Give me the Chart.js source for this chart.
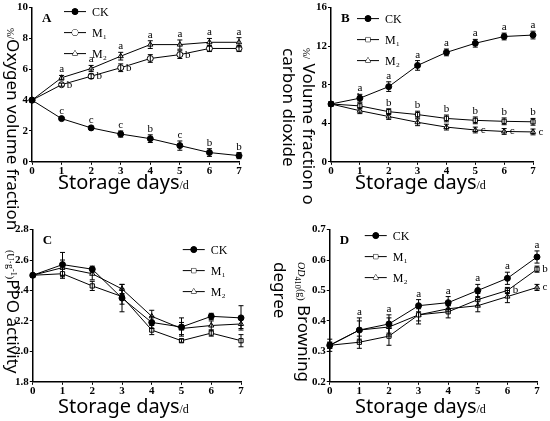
<!DOCTYPE html>
<html><head><meta charset="utf-8">
<script src="https://cdn.jsdelivr.net/npm/chart.js@4.4.1/dist/chart.umd.min.js"></script>
<style>
body{margin:0;background:#fff;width:550px;height:421px;position:relative;overflow:hidden;font-family:"Liberation Serif",serif}
canvas{position:absolute}
.yt{position:absolute;transform-origin:0 0;transform:rotate(90deg);white-space:nowrap;font-family:"Noto Sans",sans-serif;font-size:17px;line-height:17px;color:#000}
.yt small{font-family:"Liberation Serif",serif;font-size:10px}
.xt{position:absolute;font-family:"Noto Sans",sans-serif;font-size:20px;white-space:nowrap}
.xt small{font-family:"Liberation Serif",serif;font-size:12px}
</style></head><body>
<canvas id="cA" style="left:0;top:0" width="275" height="178"></canvas>
<canvas id="cB" style="left:275px;top:0" width="275" height="178"></canvas>
<canvas id="cC" style="left:0;top:222px" width="275" height="176"></canvas>
<canvas id="cD" style="left:275px;top:222px" width="275" height="176"></canvas>
<div class="yt" style="left:22px;top:28px"><small>%/</small>Oxygen volume fraction</div>
<div class="xt" style="left:58px;top:168px">Storage days<small>/d</small></div>
<div class="yt" style="left:318px;top:48px"><small>%/</small> Volume fraction o<br>carbon dioxide</div>
<div class="xt" style="left:355px;top:168px">Storage days<small>/d</small></div>
<div class="yt" style="left:22px;top:250px"><small>(U·g<sup>-1</sup>)</small>PPO activity</div>
<div class="xt" style="left:58px;top:392px">Storage days<small>/d</small></div>
<div class="yt" style="left:313px;top:262px"><small><i>OD</i><sub>410</sub>(g)</small> Browning<br>degree</div>
<div class="xt" style="left:355px;top:392px">Storage days<small>/d</small></div>
<script>
const days = [0, 1, 2, 3, 4, 5, 6, 7];
const seriesNames = ['CK', 'M\u2081', 'M\u2082'];

const oxyCK = [4, 2.8, 2.2, 1.8, 1.5, 1.05, 0.6, 0.4];
const oxyM1 = [4, 5.0, 5.55, 6.1, 6.7, 6.95, 7.35, 7.35];
const oxyM2 = [4, 5.45, 6.05, 6.85, 7.6, 7.6, 7.75, 7.75];
const oxyErr = [[0.1, 0.1, 0.1, 0.2, 0.25, 0.3, 0.25, 0.2], [0.1, 0.1, 0.15, 0.25, 0.25, 0.25, 0.2, 0.2], [0.1, 0.15, 0.2, 0.25, 0.25, 0.3, 0.25, 0.3]];
const oxyLetters = [['', 'c', 'c', 'c', 'b', 'c', 'b', 'b'], ['', 'b', 'b', 'b', '', 'b', '', ''], ['', 'a', 'a', 'a', 'a', 'a', 'a', 'a']];

const co2CK = [6, 6.6, 7.8, 10, 11.35, 12.3, 13, 13.15];
const co2M1 = [6, 5.8, 5.2, 4.9, 4.5, 4.3, 4.2, 4.15];
const co2M2 = [6, 5.3, 4.7, 4.1, 3.6, 3.3, 3.15, 3.1];
const co2Err = [[0.2, 0.4, 0.5, 0.5, 0.35, 0.4, 0.35, 0.4], [0.2, 0.3, 0.3, 0.35, 0.35, 0.35, 0.35, 0.35], [0.2, 0.3, 0.3, 0.35, 0.3, 0.3, 0.3, 0.3]];
const co2Letters = [['', 'a', 'a', 'a', 'a', 'a', 'a', 'a'], ['', 'b', 'b', 'b', 'b', 'b', 'b', 'b'], ['', '', '', '', '', 'c', 'c', 'c']];

const ppoCK = [2.5, 2.57, 2.54, 2.35, 2.19, 2.16, 2.23, 2.22];
const ppoM1 = [2.5, 2.51, 2.43, 2.36, 2.14, 2.07, 2.12, 2.07];
const ppoM2 = [2.5, 2.55, 2.51, 2.41, 2.23, 2.15, 2.17, 2.18];
const ppoErr = [[0.01, 0.08, 0.02, 0.09, 0.04, 0.06, 0.02, 0.08], [0.01, 0.03, 0.03, 0.05, 0.03, 0.01, 0.02, 0.04], [0.01, 0.05, 0.04, 0.03, 0.04, 0.04, 0.03, 0.03]];

const brCK = [0.32, 0.37, 0.39, 0.45, 0.46, 0.50, 0.54, 0.61];
const brM1 = [0.32, 0.33, 0.35, 0.42, 0.43, 0.47, 0.50, 0.57];
const brM2 = [0.32, 0.37, 0.38, 0.42, 0.44, 0.45, 0.48, 0.51];
const brErr = [[0.02, 0.04, 0.03, 0.02, 0.02, 0.02, 0.02, 0.02], [0.01, 0.02, 0.03, 0.02, 0.02, 0.02, 0.01, 0.01], [0.01, 0.03, 0.03, 0.03, 0.01, 0.02, 0.02, 0.01]];
const brLetters = [['', 'a', 'a', 'a', 'a', 'a', 'a', 'a'], ['', '', '', '', '', '', 'b', 'b'], ['', '', '', '', '', '', '', 'c']];

const serif = '"Liberation Serif", serif';

const extras = {
  id: 'extras',
  afterDatasetsDraw(chart, args, o) {
    const c = chart.ctx, x = chart.scales.x, y = chart.scales.y;
    c.save();
    c.strokeStyle = '#000'; c.fillStyle = '#000'; c.lineWidth = 1;
    // error bars
    chart.data.datasets.forEach((ds, i) => {
      ds.data.forEach((v, j) => {
        const e = o.err[i][j], px = x.getPixelForValue(j);
        const t = y.getPixelForValue(v + e), b = y.getPixelForValue(v - e);
        c.beginPath(); c.moveTo(px, t); c.lineTo(px, b);
        c.moveTo(px - 2.5, t); c.lineTo(px + 2.5, t);
        c.moveTo(px - 2.5, b); c.lineTo(px + 2.5, b); c.stroke();
      });
    });
    // letters
    c.font = '11px ' + serif; c.textAlign = 'center';
    (o.letters || []).forEach((row, i) => {
      row.forEach((l, j) => {
        if (!l) return;
        const v = chart.data.datasets[i].data[j];
        let px = x.getPixelForValue(j), py;
        if (o.side && o.side[i] === 'right') { px += 8; py = y.getPixelForValue(v) + 3; }
        else py = y.getPixelForValue(v + o.err[i][j]) - 3;
        c.fillText(l, px, py);
      });
    });
    // panel letter
    c.font = 'bold 13px ' + serif; c.textAlign = 'left';
    c.fillText(o.panel, chart.chartArea.left + 10, chart.chartArea.top + 14);
    // legend
    c.font = '12px ' + serif;
    chart.data.datasets.forEach((ds, i) => {
      const lx = chart.chartArea.left + o.legX, ly = chart.chartArea.top + o.legY + i * 21;
      c.beginPath(); c.moveTo(lx, ly); c.lineTo(lx + 22, ly); c.stroke();
      Chart.helpers.drawPoint(c, { pointStyle: ds.pointStyle, radius: 3, borderWidth: 1 }, lx + 11, ly);
      c.fillStyle = ds.pointBackgroundColor; c.fill();
      c.fillStyle = '#000';
      c.fillText(seriesNames[i], lx + 28, ly + 4);
    });
    c.restore();
  }
};

function makeChart(id, values, styles, yMin, yMax, step, dec, opts) {
  new Chart(document.getElementById(id), {
    type: 'line',
    data: {
      labels: days,
      datasets: values.map((d, i) => ({
        data: d, borderColor: '#000', borderWidth: 1, pointStyle: styles[i],
        pointRadius: 3, pointBorderColor: '#000', pointBorderWidth: 1,
        pointBackgroundColor: i === 0 ? '#000' : '#fff', tension: 0
      }))
    },
    options: {
      responsive: false, animation: false,
      layout: { padding: { left: opts.padL, right: opts.padR, top: 6 } },
      plugins: { legend: { display: false }, tooltip: { enabled: false }, extras: opts },
      scales: {
        x: {
          offset: false,
          grid: { drawOnChartArea: false, tickLength: 3, color: '#000' },
          border: { color: '#000', width: 1.5 },
          ticks: { color: '#000', font: { family: serif, weight: 'bold', size: 11 }, padding: 0 }
        },
        y: {
          min: yMin, max: yMax,
          grid: { drawOnChartArea: false, tickLength: 3, color: '#000' },
          border: { color: '#000', width: 1.5 },
          ticks: { stepSize: step, color: '#000', font: { family: serif, weight: 'bold', size: 11 }, padding: 1, callback: v => v.toFixed(dec) }
        }
      }
    },
    plugins: [extras]
  });
}

makeChart('cA', [oxyCK, oxyM1, oxyM2], ['circle', 'circle', 'triangle'], 0, 10, 2, 0,
  { err: oxyErr, letters: oxyLetters, side: ['top', 'right', 'top'], panel: 'A', legX: 32, legY: 4, padL: 16, padR: 36 });
makeChart('cB', [co2CK, co2M1, co2M2], ['circle', 'rect', 'triangle'], 0, 16, 4, 0,
  { err: co2Err, letters: co2Letters, side: ['top', 'top', 'right'], panel: 'B', legX: 26, legY: 11, padL: 40, padR: 17 });
makeChart('cC', [ppoCK, ppoM1, ppoM2], ['circle', 'rect', 'triangle'], 1.8, 2.8, 0.2, 1,
  { err: ppoErr, panel: 'C', legX: 150, legY: 20, padL: 14, padR: 34 });
makeChart('cD', [brCK, brM1, brM2], ['circle', 'rect', 'triangle'], 0.2, 0.7, 0.1, 1,
  { err: brErr, letters: brLetters, side: ['top', 'right', 'right'], panel: 'D', legX: 35, legY: 6, padL: 36, padR: 13 });
</script>
</body></html>
